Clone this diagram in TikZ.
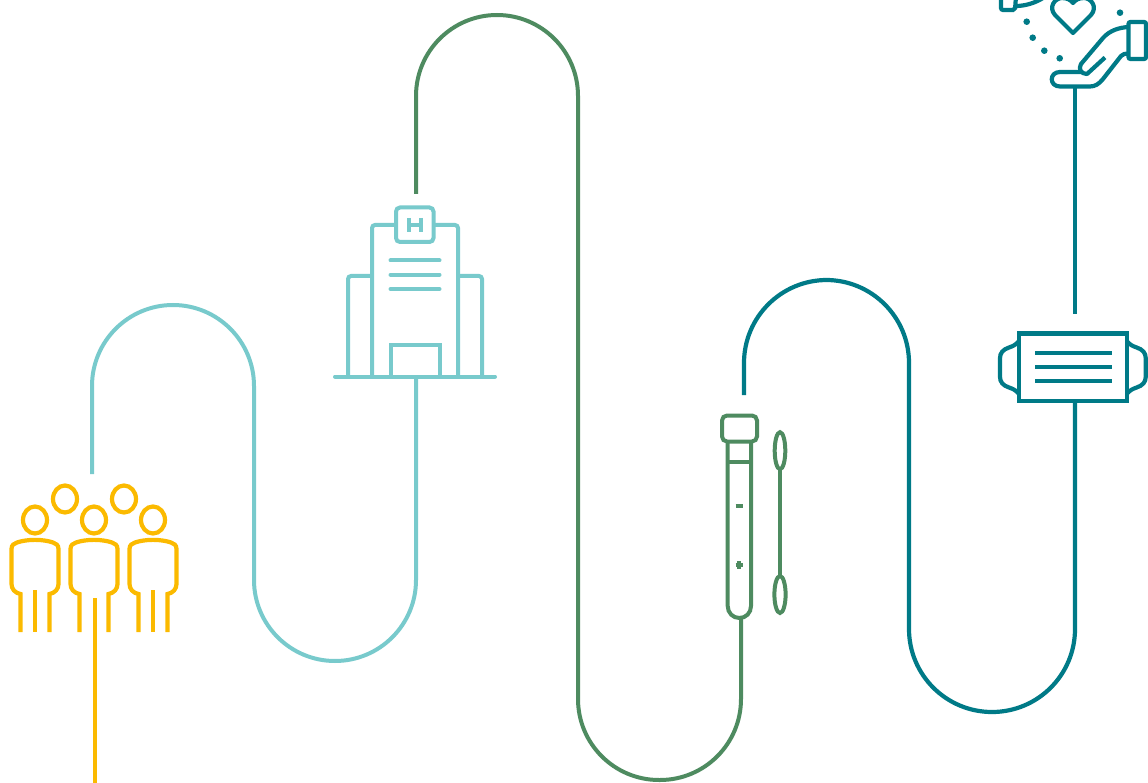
\documentclass[tikz,border=0pt]{standalone}
\usepackage{xcolor}
\definecolor{crowdYellow}{HTML}{FBBA00}
\definecolor{hospitalTeal}{HTML}{78CACC}
\definecolor{swabGreen}{HTML}{4E8B60}
\definecolor{maskTeal}{HTML}{007A87}

\begin{document}
\begin{tikzpicture}[x=1pt,y=-1pt]
    % Styles for lines and icons
    \tikzset{
      crowdline/.style={draw=crowdYellow, line width=4.2pt},
      hospitalline/.style={draw=hospitalTeal, line width=4pt},
      swabline/.style={draw=swabGreen, line width=4pt},
      maskline/.style={draw=maskTeal, line width=4.2pt},
      route/.style={rounded corners=#1}
    }
    \clip (0,0) rectangle (1148,783);

    % Ports with explicit coordinates
    \coordinate (crowdOut) at (95,598);
    \coordinate (crowdIn) at (95,783);
    \coordinate (crowdTop) at (92,474);
    \coordinate (hospitalBase) at (416,378);
    \coordinate (hospitalTop) at (416,194);
    \coordinate (tubeBottom) at (741,618);
    \coordinate (tubeTop) at (744,395);
    \coordinate (maskBottom) at (1075,403);
    \coordinate (maskTop) at (1075,314);
    \coordinate (handBottom) at (1075,88);

    % Route between the icons
    \draw[crowdline] (crowdIn) -- (crowdOut);
    \draw[hospitalline, route=81pt] (crowdTop) -- (92,305) -- (254,305) -- (254,661) -- (416,661) -- (hospitalBase);
    \draw[swabline, route=81pt] (hospitalTop) -- (416,15) -- (578,15) -- (578,780) -- (741,780) -- (tubeBottom);
    \draw[maskline, route=83pt] (tubeTop) -- (744,280) -- (909,280) -- (909,712) -- (1075,712) -- (maskBottom);
    \draw[maskline] (maskTop) -- (handBottom);

    % People
    \foreach \hx/\hy in {65/499,124/499,35/520,94/520,153/520}
      \draw[crowdline] (\hx,\hy) ellipse[x radius=12, y radius=13.5];
    \foreach \bx in {35,94,153} {
      \draw[crowdline] (\bx-14.5,632) -- (\bx-14.5,594) .. controls (\bx-20,593) and (\bx-23.5,589) .. (\bx-23.5,584)
        -- (\bx-23.5,549) .. controls (\bx-23.5,545) and (\bx-21,543.5) .. (\bx-18,542.5)
        .. controls (\bx-8,539) and (\bx+8,539) .. (\bx+18,542.5)
        .. controls (\bx+21,543.5) and (\bx+23.5,545) .. (\bx+23.5,549)
        -- (\bx+23.5,584) .. controls (\bx+23.5,589) and (\bx+20,593) .. (\bx+14.5,594) -- (\bx+14.5,632);
    }
    \foreach \bx in {35,153}
      \draw[crowdline] (\bx,590) -- (\bx,632);

    % Hospital
    \draw[hospitalline, line cap=round] (335,376.5) -- (495,376.5);
    \draw[hospitalline, rounded corners=3pt] (372,376) -- (372,225) -- (396,225);
    \draw[hospitalline, rounded corners=3pt] (433.5,225) -- (458,225) -- (458,376);
    \draw[hospitalline, rounded corners=3pt] (372,276) -- (348,276) -- (348,376);
    \draw[hospitalline, rounded corners=3pt] (458,276) -- (482,276) -- (482,376);
    \draw[hospitalline, rounded corners=4pt] (396,207.5) rectangle (433.5,242);
    \draw[hospitalline, line width=4.6pt] (409,218) -- (409,232) (421,218) -- (421,232);
    \draw[hospitalline] (409,225) -- (421,225);
    \foreach \ly in {260.5,274.7,289}
      \draw[hospitalline, line cap=round] (390.5,\ly) -- (439.5,\ly);
    \draw[hospitalline] (390.5,376) -- (390.5,345) -- (439.5,345) -- (439.5,376);

    % Test tube and swab
    \draw[swabline, rounded corners=5pt] (722,415.5) rectangle (757,441.5);
    \draw[swabline] (727.7,441.5) -- (727.7,606) .. controls (727.7,613) and (733,618) .. (739.4,618)
      .. controls (745.8,618) and (751,613) .. (751,606) -- (751,441.5);
    \draw[swabline] (727.7,462) -- (751,462);
    \draw[swabline] (735.5,505.7) -- (742.5,505.7);
    \draw[swabline] (735.5,565) -- (742.5,565) (739,561) -- (739,569);
    \draw[swabline] (780,450.7) ellipse[x radius=5.3, y radius=18.5];
    \draw[swabline] (780,594.5) ellipse[x radius=5.6, y radius=18.5];
    \draw[swabline] (780,469) -- (780,576);

    % Mask
    \draw[maskline] (1019,333.5) rectangle (1126.7,400.7);
    \foreach \ly in {352.7,367,381.3}
      \draw[maskline] (1035,\ly) -- (1111.7,\ly);
    \draw[maskline] (1019,341) .. controls (1016,345) and (1012,346.5) .. (1009,347.5)
      .. controls (1003,349.5) and (1000,353) .. (1000,358) -- (1000,377)
      .. controls (1000,382) and (1003,385.5) .. (1009,387.5)
      .. controls (1012,388.5) and (1016,390) .. (1019,394);
    \draw[maskline] (1126.7,341) .. controls (1129.7,345) and (1133.7,346.5) .. (1136.7,347.5)
      .. controls (1142.7,349.5) and (1145.7,353) .. (1145.7,358) -- (1145.7,377)
      .. controls (1145.7,382) and (1142.7,385.5) .. (1136.7,387.5)
      .. controls (1133.7,388.5) and (1129.7,390) .. (1126.7,394);

    % Hands and heart
    \draw[maskline, rounded corners=2pt] (1001,-4) -- (1001,10) -- (1015,10) -- (1016,-4);
    \draw[maskline] (1016,6) .. controls (1025,6) and (1035,3) .. (1043,-2);
    \draw[maskline, line join=round] (1073,33) -- (1055,15) .. controls (1048,7) and (1055,-2) .. (1062,-2)
      .. controls (1067,-2) and (1071,0) .. (1073,3)
      .. controls (1075,0) and (1079,-2) .. (1084,-2)
      .. controls (1091,-2) and (1098,7) .. (1091,15) -- cycle;
    \foreach \dx/\dy in {1026.7/21.7,1032.7/37.7,1044.3/50.7,1059.7/58.3,1120/12.7}
      \fill[maskTeal] (\dx,\dy) circle[radius=3.3];
    \draw[maskline, rounded corners=2pt] (1128.5,22) rectangle (1146,59);
    \draw[maskline, line join=round] (1128.5,27) .. controls (1120,27.5) and (1110,30) .. (1103,38)
      -- (1081,64) .. controls (1078,69) and (1081,74) .. (1087,74) -- (1105,57.5);
    \draw[maskline, line join=round] (1128.5,53.5) .. controls (1125,53.5) and (1123,54) .. (1121,56)
      -- (1103,79) .. controls (1099,84) and (1095,86.5) .. (1090,86.5)
      -- (1060,86.5) .. controls (1049,86.5) and (1049,72) .. (1060,72) -- (1082,72);
\end{tikzpicture}
\end{document}
